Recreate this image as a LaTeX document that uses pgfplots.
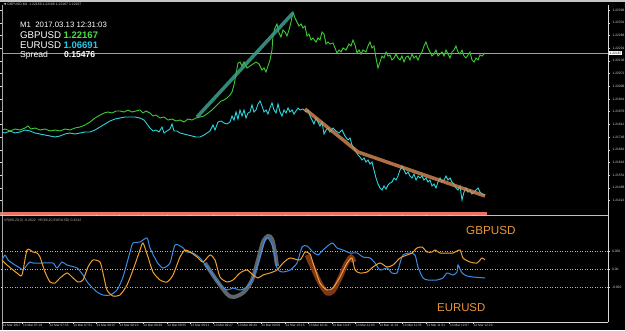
\documentclass[border=0pt]{standalone}
\usepackage{fontspec}
\setmainfont{Liberation Sans}
\newfontfamily\dejavu{DejaVu Sans}
\usepackage{pgfplots}
\pgfplotsset{compat=1.18}
\definecolor{gbp}{RGB}{60,200,55}
\definecolor{gbptxt}{RGB}{70,225,70}
\definecolor{eur}{RGB}{45,210,220}
\definecolor{eurtxt}{RGB}{40,200,230}
\definecolor{oscblue}{RGB}{60,140,230}
\definecolor{oscorange}{RGB}{240,160,50}
\definecolor{lbl}{RGB}{232,150,56}
\definecolor{trendteal}{RGB}{60,160,140}
\definecolor{trendtan}{RGB}{215,140,85}
\definecolor{hlgray}{RGB}{105,112,120}
\definecolor{hlbrown}{RGB}{150,65,30}
\definecolor{band}{RGB}{232,115,100}
\begin{document}
\begin{tikzpicture}
\fill[black] (0,0) rectangle (625pt,330pt);
\useasboundingbox (0,0) rectangle (625pt,330pt);
% ---------------- main price panel ----------------
\begin{axis}[
  at={(2pt,117pt)}, anchor=south west, scale only axis,
  width=606pt, height=208pt,
  xmin=2, xmax=608, ymin=5, ymax=213, y dir=reverse,
  axis line style={draw=none}, clip=false,
  xtick=\empty,
  ytick={10,22.7,35.4,48.1,60.8,73.5,86.2,98.9,111.6,124.3,137,149.7,162.4,175.1,187.8,200.5,213.2},
  yticklabels={1.22396,1.22331,1.22266,1.22201,1.22136,1.22071,1.22006,1.21941,1.21876,1.21811,1.21746,1.21681,1.21616,1.21551,1.21486,1.21421,1.21356},
  yticklabel pos=right,
  tick align=outside, major tick length=2pt,
  tick style={draw=white!85!black, line width=0.4pt},
  yticklabel style={font=\fontsize{3.3}{4}\selectfont, text=white!85!black, anchor=west, xshift=-1pt},
]
% bid line
\addplot[gray!75, line width=0.5pt] coordinates {(2,53) (608,53)};
% EURUSD overlay (cyan)
\addplot[eur, line width=0.9pt] coordinates {
(2,132)(5,133)(10,131)(15,133)(20,132)(25,130)(30,131)(35,133)(40,134)(45,135)(50,136)(55,137)(60,136)(65,134)(70,133)(75,134)(80,133)(85,132)(90,132)(95,130)(100,127)(105,124)(110,121)(115,119)(120,118)(125,117)(130,117)(135,117)(140,118)(144,120)(147,124)(150,128)(153,131)(156,130)(159,132)(162,127)(164,133)(167,131)(170,129)(172,124)(174,131)(177,131)(180,133)(184,134)(188,135)(192,136)(196,137)(200,137)(204,135)(207,133)(210,131)(213,125)(215,130)(218,122)(221,121)(224,123)(227,124)(230,122)(232,116)(234,120)(236,112)(238,119)(240,110)(242,116)(244,110)(246,118)(248,113)(250,112)(252,105)(254,112)(256,110)(258,104)(260,101)(262,106)(264,112)(266,110)(268,114)(270,108)(272,103)(274,110)(276,113)(278,104)(280,112)(282,116)(284,110)(286,113)(288,108)(290,112)(292,110)(294,114)(296,111)(298,108)(300,110)(303,109)(306,112)(308,110)(310,116)(312,120)(314,124)(316,118)(318,122)(320,126)(322,122)(324,134)(326,130)(328,128)(330,132)(333,128)(336,131)(339,133)(342,130)(345,136)(348,140)(350,138)(352,145)(355,150)(358,155)(360,157)(362,160)(364,158)(366,162)(368,160)(370,164)(372,162)(374,170)(376,178)(378,184)(380,188)(382,190)(384,186)(386,189)(388,185)(390,183)(392,182)(394,178)(396,180)(398,176)(400,170)(402,166)(404,170)(406,174)(408,172)(410,176)(412,178)(414,174)(416,180)(418,176)(420,178)(422,176)(424,180)(426,178)(428,182)(430,180)(432,186)(434,184)(436,188)(438,182)(440,178)(442,182)(444,180)(446,176)(448,180)(450,178)(452,182)(454,184)(456,188)(458,190)(460,186)(462,200)(464,192)(466,188)(468,192)(470,190)(472,194)(474,192)(476,190)(478,188)(480,192)(482,194)(485,195)};
% GBPUSD (green)
\addplot[gbp, line width=0.9pt] coordinates {
(2,130)(5,129)(10,131)(15,129)(20,130)(25,128)(28,126)(31,129)(35,128)(40,130)(45,129)(50,131)(55,130)(60,131)(65,129)(70,130)(75,128)(80,127)(85,125)(90,122)(95,118)(100,115)(104,113)(108,112)(112,113)(116,111)(120,111)(124,112)(128,110)(132,112)(136,111)(140,110)(143,113)(146,111)(150,113)(153,116)(156,115)(160,118)(164,117)(168,120)(172,119)(176,121)(180,120)(184,122)(188,119)(192,120)(196,118)(200,117)(204,116)(208,113)(212,110)(215,107)(218,104)(221,101)(224,100)(227,98)(230,95)(232,92)(234,85)(236,74)(238,63)(240,62)(242,66)(244,62)(247,68)(250,66)(253,64)(256,62)(259,64)(262,70)(264,68)(266,72)(268,66)(270,60)(272,50)(273,35)(275,28)(277,24)(279,33)(281,37)(283,30)(285,32)(287,36)(289,30)(291,22)(293,12)(295,18)(297,22)(299,26)(301,24)(303,28)(305,26)(307,36)(309,34)(311,40)(313,38)(316,42)(318,38)(320,40)(322,32)(324,34)(326,44)(328,42)(330,44)(333,43)(335,48)(337,53)(339,50)(341,52)(343,48)(346,50)(349,44)(351,46)(353,40)(355,45)(357,53)(359,50)(361,54)(363,50)(366,52)(368,46)(370,42)(372,48)(374,46)(376,58)(378,68)(380,62)(382,56)(384,58)(386,52)(388,56)(390,55)(392,60)(394,58)(396,54)(398,58)(400,60)(402,56)(404,62)(406,57)(408,56)(410,60)(412,54)(414,58)(416,56)(418,60)(420,55)(422,52)(424,46)(426,42)(428,48)(430,52)(432,56)(434,54)(436,50)(438,56)(440,54)(442,52)(444,56)(446,50)(448,54)(450,58)(452,52)(454,50)(456,46)(458,52)(460,54)(462,50)(464,56)(466,58)(468,55)(470,52)(472,60)(474,62)(476,58)(478,60)(480,55)(482,56)(485,53)};
% trend lines
\addplot[trendteal, line width=3.5pt, opacity=0.85] coordinates {(197,117) (293,13)};
\addplot[trendtan, line width=3.5pt, opacity=0.8] coordinates {(305,109) (358,152) (485,196)};
% spread band and separators
\fill[band] (axis cs:0,211.5) rectangle (axis cs:487,215);
\draw[white!75!black, line width=0.5pt] (axis cs:0,215.5) -- (axis cs:608,215.5);
\draw[gray!70, line width=0.6pt] (axis cs:2,5) -- (axis cs:2,330);
\draw[white!85!black, line width=0.6pt] (axis cs:608,5) -- (axis cs:608,215.5);
\draw[gray!45, line width=1.2pt] (axis cs:0,1) -- (axis cs:625,1);
% current price box
\node[fill=white, text=black, inner sep=0.4pt, anchor=west, font=\fontsize{3.3}{4}\selectfont] at (axis cs:609,53) {1.22167};
% header text
\node[anchor=base west, inner sep=0pt, text=white!80!black, font=\fontsize{3.4}{4}\selectfont] at (axis cs:4,5.5) {{\dejavu\fontsize{3}{4}\selectfont ▼} GBPUSD,M1\ \ 1.22169 1.22169 1.22167 1.22167};
% info block
\node[anchor=base west, inner sep=0pt, text=white, font=\fontsize{7.8}{9}\selectfont] at (axis cs:20,27.3) {M1\ \ 2017.03.13 12:31:03};
\node[anchor=base west, inner sep=0pt, text=white, font=\fontsize{9.7}{11}\selectfont] at (axis cs:20,38.3) {GBPUSD};
\node[anchor=base west, inner sep=0pt, text=gbptxt, font=\fontsize{9.5}{11}\selectfont\bfseries] at (axis cs:63.5,38.3) {1.22167};
\node[anchor=base west, inner sep=0pt, text=white, font=\fontsize{9.7}{11}\selectfont] at (axis cs:20,48.3) {EURUSD};
\node[anchor=base west, inner sep=0pt, text=eurtxt, font=\fontsize{9.5}{11}\selectfont\bfseries] at (axis cs:63.5,48.3) {1.06691};
\node[anchor=base west, inner sep=0pt, text=white, font=\fontsize{8.6}{10}\selectfont] at (axis cs:20,57.3) {Spread};
\node[anchor=base west, inner sep=0pt, text=white, font=\fontsize{8.6}{10}\selectfont\bfseries] at (axis cs:64,57.3) {0.15476};
\end{axis}
% ---------------- oscillator panel ----------------
\begin{axis}[
  at={(2pt,8pt)}, anchor=south west, scale only axis,
  width=606pt, height=106pt,
  xmin=2, xmax=608, ymin=216, ymax=322, y dir=reverse,
  axis line style={draw=none}, clip=false,
  xtick={2,22.5,49,72.7,96,119,142.7,166.7,190,213.3,237.3,260.7,285,308.3,331.7,355.3,378.8,402.4,425.9,449.5,473},
  xticklabels={13 Mar 2017,13 Mar 07:19,13 Mar 07:35,13 Mar 07:51,13 Mar 08:07,13 Mar 08:23,13 Mar 08:39,13 Mar 08:55,13 Mar 09:11,13 Mar 09:27,13 Mar 09:43,13 Mar 09:59,13 Mar 10:15,13 Mar 10:31,13 Mar 10:47,13 Mar 11:03,13 Mar 11:19,13 Mar 11:35,13 Mar 11:51,13 Mar 12:07,13 Mar 12:23},
  xticklabel style={font=\fontsize{3.2}{4}\selectfont, text=white!85!black, anchor=north west, inner sep=0.5pt, xshift=0pt, yshift=0pt},
  ytick={251,269,287},
  yticklabels={0.050,0.00,-0.050},
  yticklabel pos=right,
  yticklabel style={font=\fontsize{3.3}{4}\selectfont, text=white!85!black, anchor=west, xshift=-1pt},
  tick align=outside, major tick length=1.5pt,
  tick style={draw=white!85!black, line width=0.4pt},
]
\draw[white!70!black, dotted, line width=0.5pt] (axis cs:2,251) -- (axis cs:608,251);
\draw[white!70!black, dotted, line width=0.5pt] (axis cs:2,269) -- (axis cs:608,269);
\draw[white!70!black, dotted, line width=0.5pt] (axis cs:2,287) -- (axis cs:608,287);
% highlight strokes
\addplot[hlgray, line width=4pt, smooth, opacity=0.9] coordinates {(205,263)(215,278)(227,294)(234,297)(244,292)(252,280)(258,260)(263,242)(268,236)(272,239)(275,252)(277,266)};
\addplot[hlbrown, line width=5pt, smooth, opacity=0.85] coordinates {(307,255)(313,268)(320,283)(327,293)(333,291)(340,278)(346,264)(351,257)(354,262)};
% EURUSD oscillator (blue)
\addplot[oscblue, line width=1pt, smooth, tension=0.4] coordinates {
(2,260)(5,255)(8,260)(15,265)(20,268)(23,270)(27,265)(30,262)(33,263)(43,263)(53,263)(57,268)(62,262)(67,265)(77,268)(83,275)(88,283)(97,292)(103,295)(110,295)(117,290)(123,277)(130,252)(133,243)(140,242)(147,238)(150,248)(157,262)(163,268)(170,263)(175,245)(182,247)(187,252)(193,253)(200,258)(207,267)(213,275)(220,285)(227,290)(233,288)(240,290)(247,287)(253,278)(260,257)(265,240)(268,238)(273,247)(277,268)(282,272)(290,270)(297,263)(302,247)(307,246)(313,252)(318,255)(323,250)(332,243)(337,248)(343,250)(350,253)(357,253)(363,257)(370,258)(375,263)(380,270)(387,268)(392,273)(397,273)(400,263)(403,255)(410,253)(415,255)(418,267)(423,278)(428,280)(437,280)(443,278)(447,273)(453,275)(457,272)(458,265)(462,273)(467,276)(473,277)(485,278)};
% GBPUSD oscillator (orange)
\addplot[oscorange, line width=1pt, smooth, tension=0.4] coordinates {
(2,260)(7,265)(17,273)(22,275)(27,250)(33,252)(37,253)(40,257)(45,272)(50,282)(55,283)(60,278)(67,273)(72,277)(78,282)(83,280)(88,267)(93,260)(100,262)(103,273)(107,290)(113,296)(120,295)(127,285)(133,270)(140,250)(143,243)(148,257)(153,272)(160,280)(167,282)(173,275)(180,257)(185,250)(190,252)(197,257)(203,262)(210,255)(215,260)(220,277)(227,282)(233,280)(240,273)(247,270)(253,275)(258,278)(263,275)(270,273)(277,270)(283,263)(290,258)(300,260)(305,252)(310,254)(313,263)(320,283)(327,290)(333,288)(340,277)(347,263)(352,258)(355,270)(360,273)(367,272)(373,267)(380,263)(387,267)(393,265)(400,258)(407,255)(412,253)(417,248)(422,247)(427,252)(432,252)(435,250)(440,253)(447,253)(453,253)(460,250)(463,258)(470,262)(477,263)(482,258)(485,260)};
% frame
\draw[white!85!black, line width=0.6pt] (axis cs:2,322) -- (axis cs:608,322);
\draw[white!85!black, line width=0.6pt] (axis cs:608,216) -- (axis cs:608,322);
% labels
\node[anchor=base west, inner sep=0pt, text=white!70!black, font=\fontsize{3.5}{4}\selectfont] at (axis cs:4,221) {VR(80,20,0) -0.2622\ \ VR(80,20,EURUSD) 0.3242};
\node[anchor=base west, inner sep=0pt, text=lbl, font=\fontsize{11.7}{13}\selectfont] at (axis cs:466,234) {GBPUSD};
\node[anchor=base west, inner sep=0pt, text=lbl, font=\fontsize{11.4}{13}\selectfont] at (axis cs:437,311.7) {EURUSD};
\end{axis}
\end{tikzpicture}
\end{document}
